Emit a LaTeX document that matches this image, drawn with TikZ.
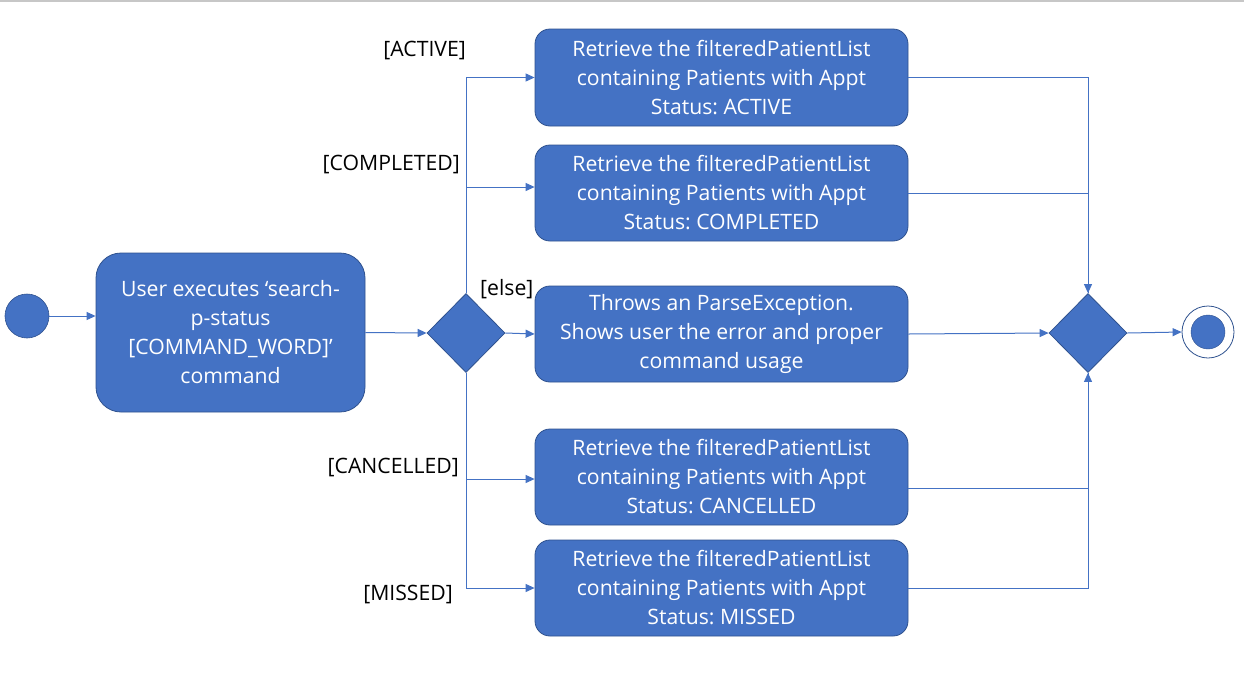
\documentclass[tikz,border=0pt]{standalone}
\usepackage{fontspec}
\setmainfont{Open Sans}
\frenchspacing
\usetikzlibrary{arrows.meta,shapes.geometric,calc}
\definecolor{ofblue}{HTML}{4472C4}
\definecolor{ofdark}{HTML}{2F528F}
\begin{document}
\begin{tikzpicture}[x=1pt,y=-1pt,
  txt/.style={font=\fontsize{21.2}{29}\selectfont},
  act/.style={txt, draw=ofdark, fill=ofblue, rounded corners=15pt, minimum width=373pt, minimum height=97pt, text=white, align=center, inner sep=0pt, line width=0.8pt},
  usr/.style={act, rounded corners=25pt, minimum width=269pt, minimum height=159pt},
  dia/.style={diamond, draw=ofdark, fill=ofblue, inner sep=0pt, minimum width=78pt, minimum height=79pt, line width=0.8pt},
  lbl/.style={txt, text=black, inner sep=0pt},
  flow/.style={draw=ofblue, line width=1pt},
  arr/.style={flow, -{Triangle[length=9pt,width=8pt]}}
]
\useasboundingbox (0,0) rectangle (1244,673);
\fill[white] (0,0) rectangle (1244,673);
\draw[black!22, line width=1.5pt] (0,0.75) -- (1244,0.75);

\node[circle, fill=ofblue, draw=ofdark, line width=0.6pt, minimum size=44pt, inner sep=0pt] (start) at (27,316) {};
\node[usr] (user) at (230.5,332.5) {User executes ‘search-\\p-status\\{}[COMMAND\_WORD]’\\command};
\node[dia] (dec) at (466,333) {};
\node[act] (b1) at (721.5,77.5) {Retrieve the filteredPatientList\\containing Patients with Appt\\Status: ACTIVE};
\node[act, minimum height=96pt] (b2) at (721.5,193) {Retrieve the filteredPatientList\\containing Patients with Appt\\Status: COMPLETED};
\node[act, minimum height=96pt] (b3) at (721.5,334) {Throws an ParseException.\\ Shows user the error and proper\\command usage};
\node[act, minimum height=96pt] (b4) at (721.5,477) {Retrieve the filteredPatientList\\containing Patients with Appt\\Status: CANCELLED};
\node[act, minimum height=96pt] (b5) at (721.5,588) {Retrieve the filteredPatientList\\containing Patients with Appt\\Status: MISSED};
\node[dia] (mer) at (1088,333) {};
\node[circle, draw=ofdark, fill=white, line width=0.8pt, minimum size=52pt, inner sep=0pt] (end) at (1208,332) {};
\node[circle, fill=ofblue, draw=ofdark, line width=0.4pt, minimum size=34pt, inner sep=0pt] (endin) at (1208,332) {};

\node[lbl, anchor=east] (lA) at (466,50) {[ACTIVE]};
\node[lbl, anchor=east] (lB) at (460,164) {[COMPLETED]};
\node[lbl, anchor=west] (lE) at (480,289) {[else]};
\node[lbl, anchor=east] (lC) at (459,467) {[CANCELLED]};
\node[lbl, anchor=east] (lD) at (453,594) {[MISSED]};

\draw[arr] (start.east) -- (start.east -| user.west);
\draw[arr] (user.east) -- (dec.west);
\draw[arr] (dec.north) |- (b1.west);
\draw[arr] (dec.north) |- ($(b2.west)+(0,-6)$);
\draw[arr] (dec.east) -- (b3.west);
\draw[arr] (dec.south) |- ($(b4.west)+(0,2)$);
\draw[arr] (dec.south) |- (b5.west);

\draw[arr] (b1.east) -| (mer.north);
\draw[flow] (b2.east) -| (mer.north);
\draw[arr] (b3.east) -- (mer.west);
\draw[flow] ($(b4.east)+(0,11)$) -| (mer.south);
\draw[arr] (b5.east) -| (mer.south);
\draw[arr] (mer.east) -- (end.west);
\end{tikzpicture}
\end{document}
